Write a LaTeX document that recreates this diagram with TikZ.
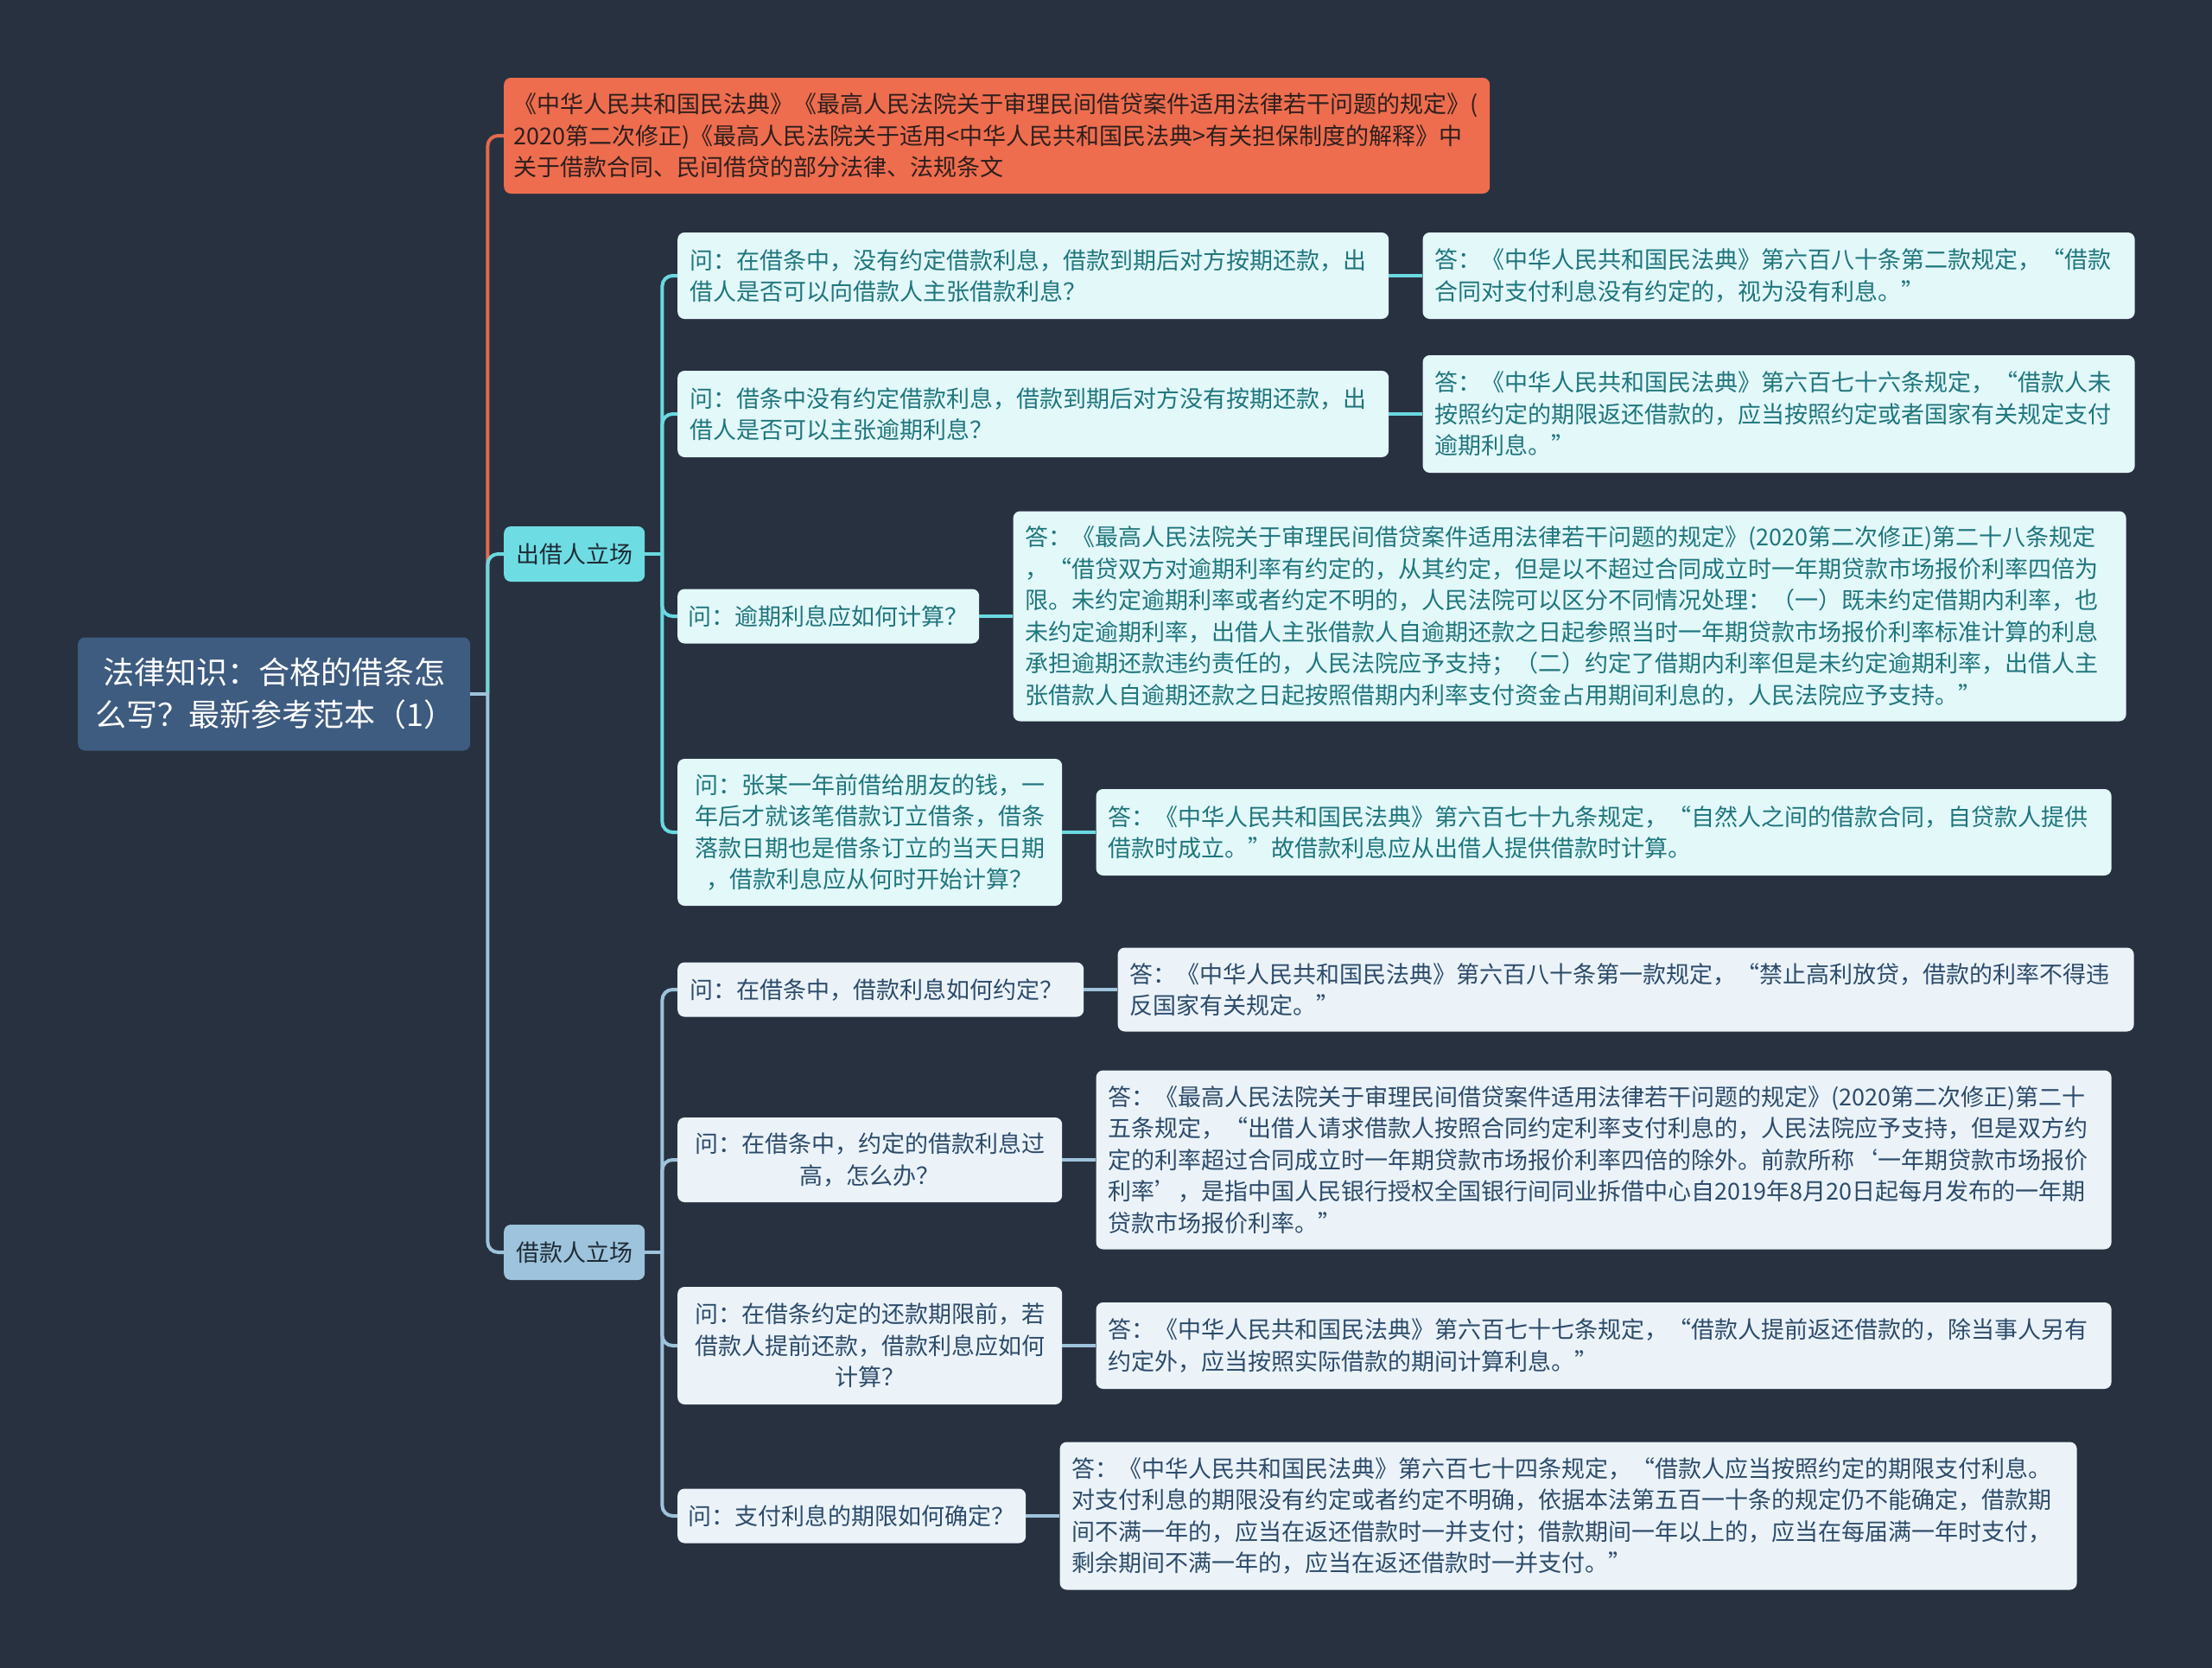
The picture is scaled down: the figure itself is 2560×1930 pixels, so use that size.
\documentclass[tikz,border=0pt]{standalone}
\usepackage{fontspec}
\newfontfamily\cjk{Noto Sans CJK SC}
\usetikzlibrary{positioning}
\definecolor{Canvas}{HTML}{283140}
\definecolor{RootFill}{HTML}{3E5B80}
\definecolor{LawFill}{HTML}{EE6D4F}
\definecolor{LawLine}{HTML}{E36A4C}
\definecolor{LawText}{HTML}{2E1F1C}
\definecolor{BranchText}{HTML}{1E2B36}
\definecolor{LenderFill}{HTML}{6EDDE3}
\definecolor{LenderLine}{HTML}{6AD9E0}
\definecolor{LenderLeaf}{HTML}{E3F8F9}
\definecolor{LenderText}{HTML}{1F767D}
\definecolor{BorrowerFill}{HTML}{9EC3DC}
\definecolor{BorrowerLine}{HTML}{9EC3DC}
\definecolor{BorrowerLeaf}{HTML}{EBF3F9}
\definecolor{BorrowerText}{HTML}{2D4B6A}

\begin{document}
\begin{tikzpicture}[
    x=1pt, y=-1pt,
    node distance=39pt,
    base/.style={
      rounded corners=8pt,
      inner xsep=14pt,
      inner ysep=6pt,
      font=\cjk\fontsize{27}{36.5}\selectfont
    },
    rootbox/.style={
      base,
      fill=RootFill,
      text=white,
      inner xsep=20pt,
      text width=414pt,
      minimum height=131pt,
      align=center,
      font=\cjk\fontsize{36}{49}\selectfont
    },
    lawbox/.style={
      base,
      fill=LawFill,
      text=LawText,
      inner xsep=11pt,
      text width=1119pt,
      minimum height=134pt,
      align=left
    },
    branch/.style={
      base,
      text=BranchText,
      minimum width=163pt,
      minimum height=64pt
    },
    lenderbranch/.style={branch, fill=LenderFill},
    borrowerbranch/.style={branch, fill=BorrowerFill},
    lenderleaf/.style={base, fill=LenderLeaf, text=LenderText, align=left},
    borrowerleaf/.style={base, fill=BorrowerLeaf, text=BorrowerText, align=left},
    link/.style={line width=4pt, rounded corners=12pt},
    lawlink/.style={link, draw=LawLine},
    lenderlink/.style={link, draw=LenderLine},
    borrowerlink/.style={link, draw=BorrowerLine}
  ]
    \useasboundingbox (0,0) rectangle (2560,1930);
    \fill[Canvas] (0,0) rectangle (2560,1930);

    \node[rootbox, anchor=west] (root) at (90,803) {法律知识：合格的借条怎\\么写？最新参考范本（1）};
    \node[lawbox, anchor=west] (laws) at (583,157) {《中华人民共和国民法典》《最高人民法院关于审理民间借贷案件适用法律若干问题的规定》(\\
      2020第二次修正)《最高人民法院关于适用<中华人民共和国民法典>有关担保制度的解释》中\\
      关于借款合同、民间借贷的部分法律、法规条文};
    \node[lenderbranch, anchor=west] (lender) at (583,641) {出借人立场};
    \node[borrowerbranch, anchor=west] (borrower) at (583,1449) {借款人立场};

    \node[lenderleaf, anchor=west, text width=795pt, minimum height=100pt] (q1) at (784,319) {问：在借条中，没有约定借款利息，借款到期后对方按期还款，出\\
      借人是否可以向借款人主张借款利息？};
    \node[lenderleaf, text width=796pt, minimum height=100pt, right=of q1] (a1) {答：《中华人民共和国民法典》第六百八十条第二款规定，“借款\\
      合同对支付利息没有约定的，视为没有利息。”};
    \node[lenderleaf, anchor=west, text width=795pt, minimum height=100pt] (q2) at (784,479) {问：借条中没有约定借款利息，借款到期后对方没有按期还款，出\\
      借人是否可以主张逾期利息？};
    \node[lenderleaf, text width=796pt, minimum height=136pt, right=of q2] (a2) {答：《中华人民共和国民法典》第六百七十六条规定，“借款人未\\
      按照约定的期限返还借款的，应当按照约定或者国家有关规定支付\\
      逾期利息。”};
    \node[lenderleaf, anchor=west, inner xsep=12pt, text width=325pt, minimum height=63pt] (q3) at (784,713) {问：逾期利息应如何计算？};
    \node[lenderleaf, text width=1260pt, minimum height=243pt, right=of q3] (a3) {答：《最高人民法院关于审理民间借贷案件适用法律若干问题的规定》(2020第二次修正)第二十八条规定\\
      ，“借贷双方对逾期利率有约定的，从其约定，但是以不超过合同成立时一年期贷款市场报价利率四倍为\\
      限。未约定逾期利率或者约定不明的，人民法院可以区分不同情况处理：（一）既未约定借期内利率，也\\
      未约定逾期利率，出借人主张借款人自逾期还款之日起参照当时一年期贷款市场报价利率标准计算的利息\\
      承担逾期还款违约责任的，人民法院应予支持；（二）约定了借期内利率但是未约定逾期利率，出借人主\\
      张借款人自逾期还款之日起按照借期内利率支付资金占用期间利息的，人民法院应予支持。”};
    \node[lenderleaf, anchor=west, text width=417pt, minimum height=170pt, align=center] (q4) at (784,963) {问：张某一年前借给朋友的钱，一\\
      年后才就该笔借款订立借条，借条\\
      落款日期也是借条订立的当天日期\\
      ，借款利息应从何时开始计算？};
    \node[lenderleaf, text width=1147pt, minimum height=100pt, right=of q4] (a4) {答：《中华人民共和国民法典》第六百七十九条规定，“自然人之间的借款合同，自贷款人提供\\
      借款时成立。”故借款利息应从出借人提供借款时计算。};

    \node[borrowerleaf, anchor=west, text width=442pt, minimum height=63pt] (q5) at (784,1145) {问：在借条中，借款利息如何约定？};
    \node[borrowerleaf, text width=1148pt, minimum height=97pt, right=of q5] (a5) {答：《中华人民共和国民法典》第六百八十条第一款规定，“禁止高利放贷，借款的利率不得违\\
      反国家有关规定。”};
    \node[borrowerleaf, anchor=west, text width=417pt, minimum height=98pt, align=center] (q6) at (784,1342) {问：在借条中，约定的借款利息过\\
      高，怎么办？};
    \node[borrowerleaf, text width=1147pt, minimum height=207pt, right=of q6] (a6) {答：《最高人民法院关于审理民间借贷案件适用法律若干问题的规定》(2020第二次修正)第二十\\
      五条规定，“出借人请求借款人按照合同约定利率支付利息的，人民法院应予支持，但是双方约\\
      定的利率超过合同成立时一年期贷款市场报价利率四倍的除外。前款所称‘一年期贷款市场报价\\
      利率’，是指中国人民银行授权全国银行间同业拆借中心自2019年8月20日起每月发布的一年期\\
      贷款市场报价利率。”};
    \node[borrowerleaf, anchor=west, text width=417pt, minimum height=136pt, align=center] (q7) at (784,1557) {问：在借条约定的还款期限前，若\\
      借款人提前还款，借款利息应如何\\
      计算？};
    \node[borrowerleaf, text width=1147pt, minimum height=100pt, right=of q7] (a7) {答：《中华人民共和国民法典》第六百七十七条规定，“借款人提前返还借款的，除当事人另有\\
      约定外，应当按照实际借款的期间计算利息。”};
    \node[borrowerleaf, anchor=west, inner xsep=12pt, text width=379pt, minimum height=63pt] (q8) at (784,1754) {问：支付利息的期限如何确定？};
    \node[borrowerleaf, text width=1149pt, minimum height=171pt, right=of q8] (a8) {答：《中华人民共和国民法典》第六百七十四条规定，“借款人应当按照约定的期限支付利息。\\
      对支付利息的期限没有约定或者约定不明确，依据本法第五百一十条的规定仍不能确定，借款期\\
      间不满一年的，应当在返还借款时一并支付；借款期间一年以上的，应当在每届满一年时支付，\\
      剩余期间不满一年的，应当在返还借款时一并支付。”};

    \draw[lawlink] (root.east) ++(20,0) |- (laws.west);
    \draw[lenderlink] (root.east) ++(20,0) |- (lender.west);
    \draw[borrowerlink] (root.east) ++(20,0) |- (borrower.west);
    \draw[borrowerlink] (root.east) -- ++(22,0);

    \draw[lenderlink] (lender.east) ++(20,0) |- (q1.west);
    \draw[lenderlink] (lender.east) ++(20,0) |- (q2.west);
    \draw[lenderlink] (lender.east) ++(20,0) |- (q3.west);
    \draw[lenderlink] (lender.east) ++(20,0) |- (q4.west);
    \draw[lenderlink] (lender.east) -- ++(22,0);
    \draw[lenderlink] (q1) -- (a1);
    \draw[lenderlink] (q2) -- (a2);
    \draw[lenderlink] (q3) -- (a3);
    \draw[lenderlink] (q4) -- (a4);

    \draw[borrowerlink] (borrower.east) ++(20,0) |- (q5.west);
    \draw[borrowerlink] (borrower.east) ++(20,0) |- (q6.west);
    \draw[borrowerlink] (borrower.east) ++(20,0) |- (q7.west);
    \draw[borrowerlink] (borrower.east) ++(20,0) |- (q8.west);
    \draw[borrowerlink] (borrower.east) -- ++(22,0);
    \draw[borrowerlink] (q5) -- (a5);
    \draw[borrowerlink] (q6) -- (a6);
    \draw[borrowerlink] (q7) -- (a7);
    \draw[borrowerlink] (q8) -- (a8);
  \end{tikzpicture}
\end{document}
